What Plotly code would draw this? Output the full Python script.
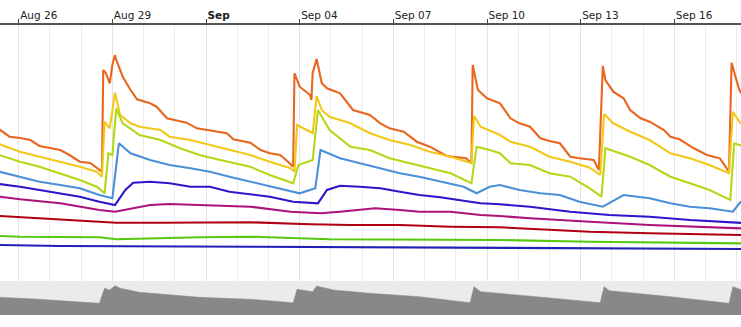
import pandas as pd
import plotly.graph_objects as go

# Hourly sensor traces; times are hours after 2019-08-25 00:00, values in chart units
START = pd.Timestamp("2019-08-25 00:00")

orange_h = [9, 17, 25, 33, 40, 56, 63, 71, 79, 88, 89, 91, 94, 96, 98, 99, 104, 110, 115, 125, 130, 138, 153, 161, 184, 189, 202,
            210, 217, 225, 231, 235, 236, 240, 248, 249, 250, 253, 257, 261, 271, 281, 294, 302, 309, 320, 330, 340, 353, 368, 372,
            373, 377, 384, 394, 402, 409, 417, 425, 432, 440, 448, 455, 466, 470, 473, 475, 481, 489, 494, 502, 509, 520, 525, 532,
            543, 553, 563, 570, 572, 575, 578, 581]
orange_v = [151.7, 144.3, 143, 141, 135, 131, 126, 119.3, 118, 109.3, 211, 208, 197.7, 216, 226, 221, 204.3, 191, 181.7, 177.7,
            174.3, 162.7, 158.3, 152.7, 147.7, 141.7, 138.3,
            131, 127.7, 126, 119.3, 114.3, 207.7, 194.3, 186, 181, 208, 222, 197.7, 192.7, 187.7, 171, 166, 157.7, 152.7, 149.3,
            139.3, 134.3, 125, 122.7, 117.7,
            216, 191, 182.7, 177.7, 162.7, 157.7, 154.3, 142.7, 140, 137.7, 124.3, 122.7, 121, 111, 215, 201, 189.3, 182.7, 171,
            162.7, 159.3, 151, 144.3, 141.7,
            132.7, 126, 122.7, 109.3, 218.3, 204.3, 191, 185]

yellow_h = [9, 25, 40, 56, 71, 84, 88, 90, 94, 98, 102, 110, 117, 133, 140, 156, 171, 186, 202, 217, 233, 236, 238, 248, 250, 253,
            257, 263, 279, 294, 309, 325, 340, 356, 372, 374, 379, 394, 402, 417, 432, 448, 463, 471, 474, 481, 494, 509, 525,
            540, 555, 570, 573, 578, 581]
yellow_v = [137, 129.3, 124.3, 119.3, 114.3, 109.3, 104.3, 159.3, 152.7, 188.3, 166, 157.7, 154.3, 151, 144.3, 141, 136, 131, 126,
            119.3, 112.7, 109.3, 156, 149.3, 147.7, 185,
            171, 164.3, 157.7, 147.7, 141, 136, 129.3, 124.3, 118, 165, 154.3, 146, 139.3, 134.3, 124.3, 119.3, 113.3, 106, 167,
            157.7, 149.3, 141, 127.7,
            122.7, 116, 107.7, 169.3, 159.3, 156]

lime_h = [9, 25, 40, 56, 71, 84, 90, 93, 96, 99, 104, 117, 133, 148, 163, 179, 202, 217, 235, 239, 250, 254, 263, 279, 294, 309,
          325, 340, 356, 372, 376, 386, 394, 402, 417, 432, 448, 463, 472, 475, 494, 509, 525, 540, 555, 571, 574, 578, 581]
lime_v = [126, 119.3, 114.3, 107.7, 101, 94.3, 87.7, 127.7, 126, 172.7, 157.7, 146, 141, 132.7, 126, 121, 114.3, 106, 97.7, 116,
          121, 171, 151, 134.3, 131, 122.7,
          117.7, 112.7, 107.7, 97.7, 134.3, 131, 127.7, 117.7, 116, 107.7, 104.3, 92.7, 84.3, 132.7, 124.3, 116, 104.3, 97.7,
          91, 81, 137.7, 136, 135]

sky_h = [9, 25, 40, 56, 71, 86, 96, 101, 110, 125, 140, 156, 171, 186, 202, 217, 240, 252, 256, 271, 286, 302, 317, 332, 348,
         366, 376, 386, 394, 409, 425, 440, 455, 473, 489, 509, 525, 540, 555, 573, 578, 581]
sky_v = [109.3, 104.3, 99.3, 96, 92.7, 86, 82.7, 137.7, 127.7, 121, 116, 112.7, 109.3, 104.3, 99.3, 94.3, 87.7, 92.7, 131, 122.7,
         117.7, 112.7, 107.7, 104.3, 99.3,
         94.3, 87.7, 94.3, 96, 91, 87.7, 86, 79.3, 74.3, 86, 82.7, 77.7, 74.3, 72.7, 69.3, 77.7, 81]

blue_h = [9, 25, 40, 56, 71, 86, 98, 106, 112, 125, 140, 156, 171, 186, 202, 217, 235, 254, 261, 271, 286, 302, 317, 332, 348,
          363, 379, 394, 417, 448, 478, 509, 540, 581]
blue_v = [97, 94.3, 91, 87.7, 84.3, 79.3, 76, 91, 98.3, 99.3, 97.7, 94.3, 94.3, 89.3, 87, 84.3, 79.3, 77.7, 91, 95.3, 94.3, 92.7,
          89.3, 86, 83.7,
          81, 77.7, 76.7, 74.3, 69.3, 66, 64.3, 61, 58]

magenta_h = [9, 25, 56, 71, 86, 98, 112, 125, 140, 163, 186, 202, 233, 256, 271, 298, 317, 332, 356, 379, 394, 417, 463, 509, 581]
magenta_v = [84.3, 81.7, 77.7, 74.3, 71, 69.3, 72.7, 76, 77, 76, 75.3, 74.3, 69.3, 67.7, 69.3, 72.7, 71, 69.3, 69.3, 66, 65, 62.7,
             59.3, 56, 52.5]

red_h = [9, 40, 71, 99, 133, 202, 248, 279, 317, 356, 394, 463, 509, 581]
red_v = [65, 62.7, 61, 58.3, 58.3, 58.7, 56.7, 56, 56, 54.3, 53.7, 49.3, 47.7, 46]

green_h = [9, 25, 86, 99, 163, 202, 263, 317, 394, 463, 581]
green_v = [45, 44.3, 43.7, 41.7, 43.7, 44.3, 41.7, 41.7, 41, 39.3, 37.6]

navy_h = [9, 56, 202, 317, 394, 471, 581]
navy_v = [36, 35, 34.3, 33.7, 33, 32.5, 32]

# Overview strip shown under the main panel
overview_h = [9, 40, 86, 90, 94, 98, 102, 117, 163, 202, 235, 238, 250, 253, 266, 294, 332, 371, 374, 379, 422, 471, 474, 478,
              525, 570, 573, 581]
overview_v = [17.7, 15.7, 11.7, 26.7, 25, 29.3, 26.7, 22.7, 17.7, 15.7, 12.3, 25.7, 23.3, 29, 25, 21.7, 18.3, 12.3, 28.3, 23.3,
              18.3, 12.3, 28.3, 24.3, 18.3, 11.7, 28.3, 24.5]

tick_dates = ["2019-08-26", "2019-08-29", "2019-09-01", "2019-09-04", "2019-09-07", "2019-09-10", "2019-09-13", "2019-09-16"]
tick_text = ["Aug 26", "Aug 29", "<b>Sep</b>", "Sep 04", "Sep 07", "Sep 10", "Sep 13", "Sep 16"]

series = [
    ("Series A", orange_h, orange_v, "#e8661e"),
    ("Series B", yellow_h, yellow_v, "#f2c818"),
    ("Series C", lime_h, lime_v, "#b2d816"),
    ("Series D", sky_h, sky_v, "#4a90d8"),
    ("Series E", blue_h, blue_v, "#2c16cc"),
    ("Series F", magenta_h, magenta_v, "#ac1278"),
    ("Series G", red_h, red_v, "#b00010"),
    ("Series H", green_h, green_v, "#56c80f"),
    ("Series I", navy_h, navy_v, "#2020b6"),
]


def to_time(hours):
    return START + pd.to_timedelta(hours, unit="h")


fig = go.Figure()
for name, hrs, vals, color in series:
    fig.add_trace(go.Scatter(x=to_time(hrs), y=vals, name=name, mode="lines",
                             line=dict(color=color, width=2.1), xaxis="x", yaxis="y"))

fig.add_trace(go.Scatter(x=to_time(overview_h), y=overview_v, mode="lines", fill="tozeroy",
                         fillcolor="#888888", line=dict(color="#888888", width=0.5),
                         xaxis="x2", yaxis="y2", name="overview"))

x_range = ["2019-08-25 09:38", "2019-09-18 03:14"]
strip = 34 / 290

fig.update_layout(
    width=741, height=327,
    margin=dict(l=0, r=0, t=25, b=12),
    paper_bgcolor="white", plot_bgcolor="white",
    showlegend=False, hovermode=False,
    font=dict(family="DejaVu Sans, Verdana, sans-serif", size=10.5, color="#222"),
    xaxis=dict(
        type="date", range=x_range, side="top", anchor="y",
        tickmode="array", tickvals=tick_dates, ticktext=tick_text,
        ticks="outside", ticklen=4, tickwidth=1, tickcolor="#444",
        ticklabelposition="outside right",
        showline=True, linecolor="#555", linewidth=2,
        showgrid=True, gridcolor="#e4e4e4", gridwidth=1,
        minor=dict(dtick=86400000, tick0="2019-08-26", showgrid=True, gridcolor="#ececec", gridwidth=1, ticks=""),
        zeroline=False, fixedrange=True,
    ),
    yaxis=dict(domain=[strip, 1], range=[0, 256], visible=False, fixedrange=True),
    xaxis2=dict(type="date", range=x_range, anchor="y2", matches="x", visible=False, showgrid=False),
    yaxis2=dict(domain=[0, strip], range=[0, 34], visible=False, fixedrange=True),
    shapes=[dict(type="rect", xref="paper", yref="y2 domain", x0=0, x1=1, y0=0, y1=1,
                 fillcolor="#ebebeb", line=dict(width=0), layer="below")],
)

fig.write_html("out.html", config={"displayModeBar": False})
